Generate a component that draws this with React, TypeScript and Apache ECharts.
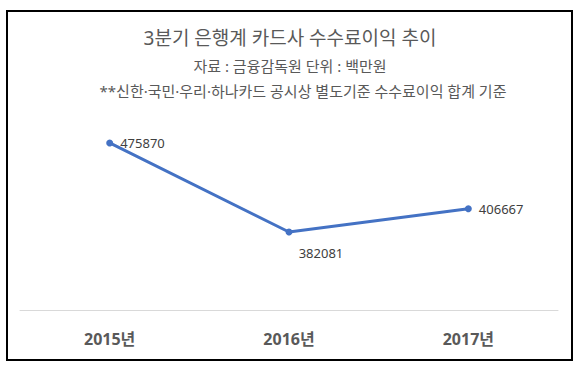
import React, { useEffect, useRef } from "react";
import * as echarts from "echarts";

const categories = ["2015년", "2016년", "2017년"];
const values = [475870, 382081, 406667];
const labelPositions = ["right", "bottom", "right"];
const titleText = "3분기 은행계 카드사 수수료이익 추이";
const subText1 = "자료 : 금융감독원 단위 : 백만원";
const subText2 = "**신한·국민·우리·하나카드 공시상 별도기준 수수료이익 합계 기준";

export default function App() {
  const ref = useRef<HTMLDivElement>(null);
  useEffect(() => {
    document.body.style.margin = "0";
    const chart = echarts.init(ref.current!, null, { renderer: "svg" });
    const font = "'Noto Sans', 'Noto Sans CJK KR', sans-serif";
    chart.setOption({
      animation: false,
      backgroundColor: "#ffffff",
      textStyle: { fontFamily: font },
      graphic: [
        {
          type: "rect",
          shape: { x: 7, y: 11, width: 565, height: 349 },
          style: { fill: "none", stroke: "#000000", lineWidth: 2 },
          silent: true,
        },
        {
          type: "text",
          x: 290,
          y: 38,
          style: { text: titleText, fill: "#595959", fontSize: 19, fontFamily: font, align: "center", verticalAlign: "middle" },
        },
        {
          type: "text",
          x: 290,
          y: 66,
          style: { text: subText1, fill: "#595959", fontSize: 15, fontFamily: font, align: "center", verticalAlign: "middle" },
        },
        {
          type: "text",
          x: 303,
          y: 91,
          style: { text: subText2, fill: "#595959", fontSize: 15, fontFamily: font, align: "center", verticalAlign: "middle" },
        },
      ],
      grid: { left: 20, right: 22, top: 120, bottom: 62 },
      xAxis: {
        type: "category",
        data: categories,
        boundaryGap: true,
        axisLine: { lineStyle: { color: "#d9d9d9", width: 1 } },
        axisTick: { show: false },
        axisLabel: { color: "#595959", fontSize: 16, fontWeight: "bold", margin: 21, fontFamily: font },
      },
      yAxis: {
        type: "value",
        min: 300000,
        max: 500000,
        show: false,
        splitLine: { show: false },
      },
      series: [
        {
          type: "line",
          data: values.map((v, i) => ({
            value: v,
            label:
              labelPositions[i] === "bottom"
                ? { position: "bottom", offset: [32, 4] }
                : { position: labelPositions[i] as any },
          })),
          symbol: "circle",
          symbolSize: 7,
          lineStyle: { color: "#4472C4", width: 3 },
          itemStyle: { color: "#4472C4" },
          label: {
            show: true,
            color: "#404040",
            fontSize: 13,
            fontFamily: font,
            distance: 7,
          },
        },
      ],
    });
    return () => chart.dispose();
  }, []);
  return <div ref={ref} style={{ width: 580, height: 372 }} />;
}
